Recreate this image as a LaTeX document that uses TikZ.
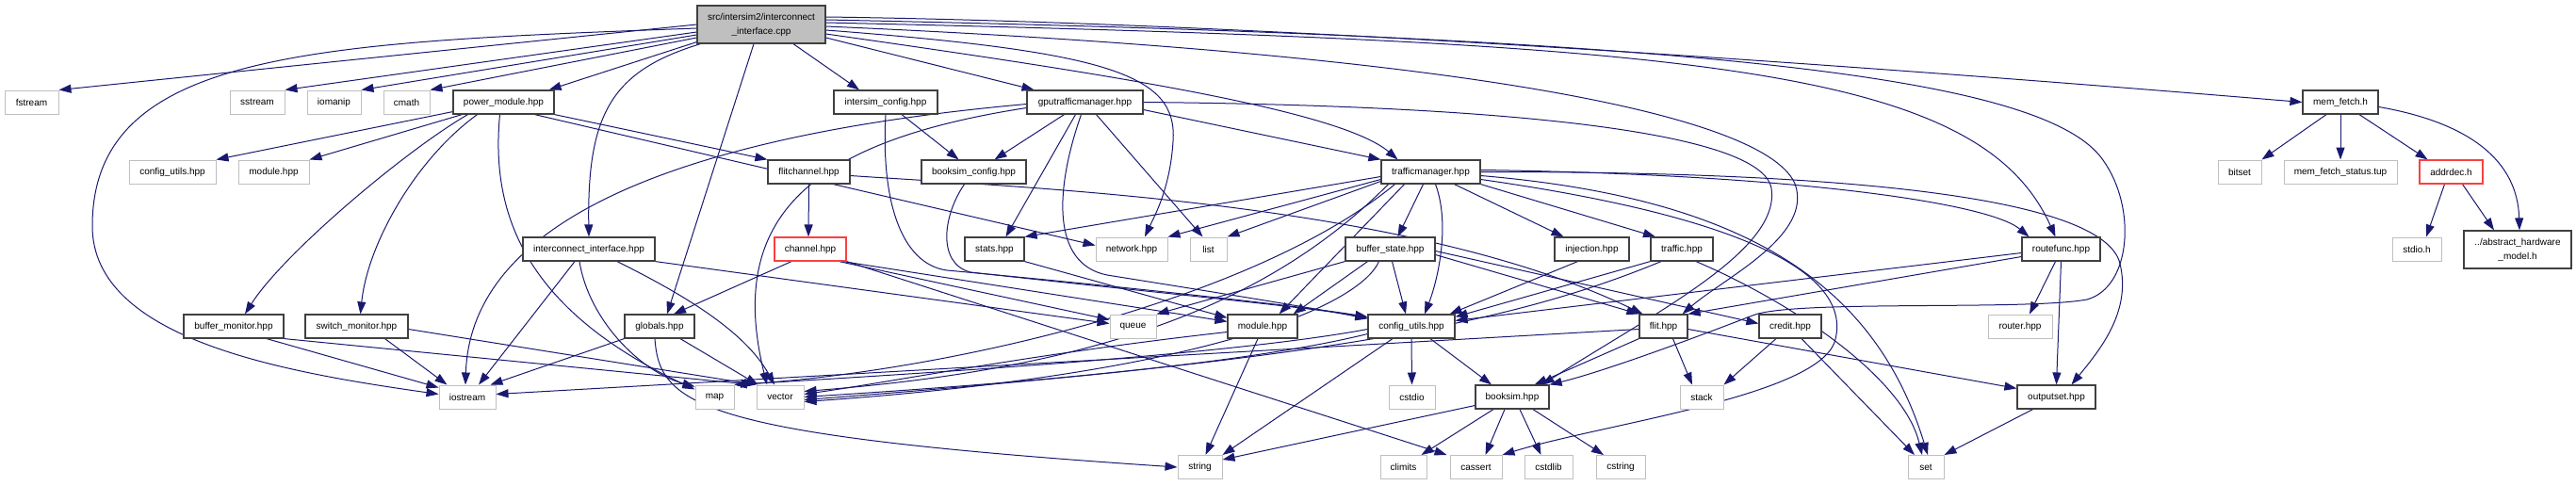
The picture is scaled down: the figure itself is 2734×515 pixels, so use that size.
\documentclass[tikz,border=0pt]{standalone}
\usepackage{fontspec}
\setmainfont{Liberation Sans}
\usetikzlibrary{arrows.meta,backgrounds}
\definecolor{ecol}{RGB}{25,25,112}
\definecolor{gcol}{RGB}{191,191,191}
\definecolor{bcol}{RGB}{64,64,64}
\definecolor{rcol}{RGB}{250,64,64}
\definecolor{rootfill}{RGB}{191,191,191}
\begin{document}
\begin{tikzpicture}[x=1pt,y=-1pt,
  base/.style={rectangle, minimum height=25pt, inner sep=0pt, fill=white, font=\fontsize{10}{15}\selectfont, text=black},
  gbox/.style={base, draw=gcol, line width=1pt},
  bbox/.style={base, draw=bcol, line width=1.2pt},
  rbox/.style={base, draw=rcol, line width=1.2pt},
  e/.style={draw=ecol, line width=1pt, -{Triangle[length=13pt,width=9pt]}},
]
\path[use as bounding box] (0,0) rectangle (2734,515);

% row 0
\node[bbox, fill=rootfill, minimum width=136pt, minimum height=40pt, align=center] (root) at (808,26) {src/intersim2/interconnect\\\_interface.cpp};
% row 1
\node[gbox, minimum width=57pt] (fstream) at (33.5,108.5) {fstream};
\node[gbox, minimum width=58pt] (sstream) at (273,108.5) {sstream};
\node[gbox, minimum width=57pt] (iomanip) at (354.5,108.5) {iomanip};
\node[gbox, minimum width=49pt] (cmath) at (431.5,108.5) {cmath};
\node[bbox, minimum width=107pt] (pm) at (534.5,108.5) {power\_module.hpp};
\node[bbox, minimum width=110pt] (isc) at (940,108.5) {intersim\_config.hpp};
\node[bbox, minimum width=123pt] (gputm) at (1151.5,108.5) {gputrafficmanager.hpp};
\node[bbox, minimum width=80pt] (mf) at (2484,108.5) {mem\_fetch.h};
% row 2
\node[gbox, minimum width=92pt] (cuG) at (183,182.5) {config\_utils.hpp};
\node[gbox, minimum width=75pt] (modG) at (290.5,182.5) {module.hpp};
\node[bbox, minimum width=87pt] (fc) at (858.5,182.5) {flitchannel.hpp};
\node[bbox, minimum width=111pt] (bc) at (1033.5,182.5) {booksim\_config.hpp};
\node[bbox, minimum width=105pt] (tm) at (1518.5,182.5) {trafficmanager.hpp};
\node[gbox, minimum width=46pt] (bitset) at (2377,182.5) {bitset};
\node[gbox, minimum width=120pt] (mfs) at (2484,182.5) {mem\_fetch\_status.tup};
\node[rbox, minimum width=67pt] (addrdec) at (2601.5,182.5) {addrdec.h};
% row 3
\node[bbox, minimum width=140pt] (iih) at (625,264.5) {interconnect\_interface.hpp};
\node[rbox, minimum width=76pt] (channel) at (860,264.5) {channel.hpp};
\node[bbox, minimum width=63pt] (stats) at (1055.5,264.5) {stats.hpp};
\node[gbox, minimum width=76pt] (network) at (1201,264.5) {network.hpp};
\node[gbox, minimum width=39pt] (list) at (1282.5,264.5) {list};
\node[bbox, minimum width=95pt] (bs) at (1475.5,264.5) {buffer\_state.hpp};
\node[bbox, minimum width=79pt] (inj) at (1689.5,264.5) {injection.hpp};
\node[bbox, minimum width=66pt] (traffic) at (1785,264.5) {traffic.hpp};
\node[bbox, minimum width=83pt] (rf) at (2187.5,264.5) {routefunc.hpp};
\node[gbox, minimum width=52pt] (stdio) at (2565,264.5) {stdio.h};
\node[bbox, minimum width=114pt, minimum height=40pt, align=center] (ahm) at (2672,265) {../abstract\_hardware\\\_model.h};
% row 4
\node[bbox, minimum width=106pt] (bm) at (248,346.5) {buffer\_monitor.hpp};
\node[bbox, minimum width=109pt] (sm) at (378.5,346.5) {switch\_monitor.hpp};
\node[bbox, minimum width=74pt] (globals) at (700,346.5) {globals.hpp};
\node[gbox, minimum width=49pt] (queue) at (1202.5,346.5) {queue};
\node[bbox, minimum width=74pt] (module) at (1340,346.5) {module.hpp};
\node[bbox, minimum width=92pt] (cu) at (1498,346.5) {config\_utils.hpp};
\node[bbox, minimum width=51pt] (flit) at (1765.5,346.5) {flit.hpp};
\node[bbox, minimum width=66pt] (credit) at (1900,346.5) {credit.hpp};
\node[gbox, minimum width=68pt] (router) at (2144,346.5) {router.hpp};
% row 5
\node[gbox, minimum width=60pt] (iostream) at (496,421.5) {iostream};
\node[gbox, minimum width=41pt] (map) at (758.5,421.5) {map};
\node[gbox, minimum width=50pt] (vector) at (828,421.5) {vector};
\node[gbox, minimum width=49pt] (cstdio) at (1498.5,421.5) {cstdio};
\node[bbox, minimum width=78pt] (booksim) at (1605,421.5) {booksim.hpp};
\node[gbox, minimum width=46pt] (stack) at (1806,421.5) {stack};
\node[bbox, minimum width=83pt] (outputset) at (2182.5,421.5) {outputset.hpp};
% row 6
\node[gbox, minimum width=47pt] (string) at (1273.5,496) {string};
\node[gbox, minimum width=49pt] (climits) at (1489.5,496) {climits};
\node[gbox, minimum width=55pt] (cassert) at (1566.5,496) {cassert};
\node[gbox, minimum width=51pt] (cstdlib) at (1643.5,496) {cstdlib};
\node[gbox, minimum width=52pt] (cstring) at (1720,496) {cstring};
\node[gbox, minimum width=38pt] (set) at (2044,496) {set};

\begin{scope}[on background layer]
% root
\draw[e] (root.west) -- (fstream.north east);
\draw[e] ([yshift=-4pt]root.west) .. controls (330,45) and (98,55) .. (98,240) .. controls (98,360) and (300,395) .. ([yshift=3pt]iostream.west);
\draw[e] ([yshift=-8pt]root.west) -- (sstream.north east);
\draw[e] ([yshift=-11pt]root.west) -- (iomanip.north east);
\draw[e] ([yshift=-14pt]root.west) -- (cmath.north east);
\draw[e] ([yshift=2pt]root.south west) -- ([xshift=-6pt]pm.north east);
\draw[e] ([xshift=4pt]root.south west) .. controls (650,75) and (623,120) .. (iih.north);
\draw[e] ([xshift=-8pt]root.south) -- ([xshift=8pt]globals.north);
\draw[e] ([xshift=34pt]root.south) -- ([xshift=-28pt]isc.north);
\draw[e] ([yshift=-14pt]root.east) -- ([xshift=-54pt]gputm.north);
\draw[e] ([yshift=-10pt]root.east) .. controls (1150,75) and (1420,115) .. ([xshift=-35pt]tm.north);
\draw[e] ([yshift=-6pt]root.east) .. controls (1180,55) and (1250,80) .. (1245,150) .. controls (1242,200) and (1225,230) .. ([xshift=14pt]network.north);
\draw[e] ([yshift=-2pt]root.east) .. controls (1500,55) and (1870,115) .. (1905,195) .. controls (1925,250) and (1830,295) .. ([xshift=-6pt]flit.north east);
\draw[e] ([yshift=2pt]root.east) .. controls (1800,45) and (2100,70) .. ([xshift=-6pt]rf.north);
\draw[e] ([yshift=5pt]root.east) .. controls (1800,40) and (2170,80) .. (2232,170) .. controls (2268,220) and (2262,305) .. (2215,318) .. controls (2150,330) and (1900,318) .. (1860,335) .. controls (1790,362) and (1700,395) .. (booksim.north east);
\draw[e] ([yshift=8pt]root.east) .. controls (1400,25) and (2100,80) .. (mf.west);
% gputrafficmanager
\draw[e] ([yshift=-2pt]gputm.west) .. controls (760,140) and (500,220) .. ([xshift=-2pt]iostream.north);
\draw[e] ([yshift=-6pt]gputm.west) .. controls (860,150) and (770,230) .. ([xshift=-14pt]vector.north);
\draw[e] ([xshift=-22pt]gputm.south) -- ([xshift=22pt]bc.north);
\draw[e] ([xshift=-10pt]gputm.south) -- ([xshift=12pt]stats.north);
\draw[e] ([xshift=-4pt]gputm.south) .. controls (1120,200) and (1115,280) .. (1175,292) .. controls (1300,312) and (1400,328) .. ([yshift=-5pt]cu.north west);
\draw[e] ([xshift=12pt]gputm.south) -- ([xshift=-6pt]list.north);
\draw[e] ([yshift=-8pt]gputm.east) -- (tm.north west);
\draw[e] (gputm.east) .. controls (1600,112) and (1870,140) .. (1880,200) .. controls (1890,265) and (1760,330) .. ([xshift=-8pt]booksim.north east);
% intersim_config, booksim_config
\draw[e] ([xshift=17pt]isc.south) -- ([xshift=-16pt]bc.north);
\draw[e] (isc.south) .. controls (935,210) and (955,280) .. (1005,287) .. controls (1200,305) and (1380,325) .. ([yshift=-3pt]cu.north west);
\draw[e] ([xshift=-10pt]bc.south) .. controls (1000,230) and (995,280) .. (1030,289) .. controls (1200,308) and (1390,326) .. ([yshift=-4pt]cu.north west);
% power_module
\draw[e] ([yshift=3pt]pm.south west) -- (cuG.north east);
\draw[e] ([xshift=10pt]pm.south west) -- (modG.north east);
\draw[e] ([xshift=-38pt]pm.south) .. controls (430,160) and (300,270) .. ([xshift=12pt]bm.north);
\draw[e] ([xshift=-28pt]pm.south) .. controls (440,170) and (390,260) .. ([xshift=4pt]sm.north);
\draw[e] ([xshift=-4pt]pm.south) .. controls (520,230) and (560,330) .. ([yshift=-5pt]map.north west);
\draw[e] ([xshift=33pt]pm.south) -- ([yshift=4pt]network.west);
\draw[e] (pm.south east) -- (fc.north west);
% flitchannel, channel
\draw[e] (fc.south) -- ([xshift=-2pt]channel.north);
\draw[e] ([yshift=-4pt]fc.east) .. controls (1100,200) and (1500,215) .. ([xshift=4pt]flit.north west);
\draw[e] ([xshift=-20pt]channel.south) -- ([xshift=15pt]globals.north);
\draw[e] ([xshift=-8pt]channel.south east) -- ([yshift=-6pt]queue.north west);
\draw[e] ([xshift=-4pt]channel.south east) -- ([yshift=-8pt]module.north west);
\draw[e] (channel.south east) -- ([xshift=-3pt]cassert.north west);
% interconnect_interface.hpp
\draw[e] ([xshift=-15pt]iih.south) -- ([xshift=12pt]iostream.north);
\draw[e] ([xshift=-10pt]iih.south) .. controls (625,340) and (680,395) .. ([yshift=-2pt]map.north west);
\draw[e] ([xshift=30pt]iih.south) .. controls (720,310) and (790,350) .. ([xshift=-6pt]vector.north);
\draw[e] (iih.south east) -- ([yshift=3pt]queue.west);
% globals, monitors
\draw[e] (globals.south west) -- ([xshift=-6pt]iostream.north east);
\draw[e] ([xshift=22pt]globals.south) -- ([xshift=2pt]vector.north west);
\draw[e] ([xshift=-5pt]globals.south) .. controls (700,430) and (740,462) .. (string.west);
\draw[e] ([xshift=35pt]bm.south) -- ([yshift=-3pt]iostream.north west);
\draw[e] (bm.south east) -- ([xshift=-3pt]vector.north west);
\draw[e] ([xshift=30pt]sm.south) -- ([xshift=9pt]iostream.north west);
\draw[e] ([yshift=-3pt]sm.east) -- (vector.north west);
% module, config_utils
\draw[e] ([xshift=-5pt]module.south) -- ([xshift=6pt]string.north);
\draw[e] ([yshift=-6pt]module.west) .. controls (1100,375) and (950,405) .. ([yshift=3pt]vector.east);
\draw[e] (cu.south) -- (cstdio.north);
\draw[e] ([xshift=20pt]cu.south) -- ([xshift=-22pt]booksim.north);
\draw[e] ([xshift=-20pt]cu.south) -- (string.north east);
\draw[e] ([yshift=-3pt]cu.west) .. controls (1300,378) and (950,398) .. (map.north east);
\draw[e] ([yshift=-8pt]cu.west) .. controls (1300,392) and (1000,412) .. (vector.east);
% booksim
\draw[e] ([xshift=-20pt]booksim.south) -- ([xshift=-6pt]climits.north east);
\draw[e] ([xshift=-8pt]booksim.south) -- ([xshift=10pt]cassert.north);
\draw[e] ([xshift=8pt]booksim.south) -- ([xshift=-8pt]cstdlib.north);
\draw[e] ([xshift=22pt]booksim.south) -- ([xshift=-18pt]cstring.north);
\draw[e] ([yshift=-9pt]booksim.west) -- ([yshift=8pt]string.east);
% flit, credit, outputset
\draw[e] ([xshift=10pt]flit.south) -- ([xshift=-10pt]stack.north);
\draw[e] (flit.south west) -- ([xshift=-16pt]booksim.north east);
\draw[e] ([yshift=-3pt]flit.east) -- ([yshift=-4pt]outputset.north west);
\draw[e] ([yshift=-3pt]flit.west) -- ([yshift=3pt]iostream.east);
\draw[e] ([xshift=-15pt]credit.south) -- (stack.north east);
\draw[e] ([xshift=12pt]credit.south) -- ([xshift=-12pt]set.north);
\draw[e] ([xshift=-25pt]outputset.south) -- (set.north east);
% routefunc
\draw[e] ([xshift=-6pt]rf.south) -- ([xshift=10pt]router.north);
\draw[e] (rf.south) -- (outputset.north);
\draw[e] ([yshift=-8pt]rf.west) -- (flit.north east);
\draw[e] ([yshift=-4pt]rf.west) -- ([yshift=-7pt]cu.north east);
% traffic, injection
\draw[e] (traffic.south west) -- ([yshift=-3pt]cu.north east);
\draw[e] ([xshift=-22pt]traffic.south) .. controls (1600,345) and (1400,382) .. ([yshift=-3pt]vector.east);
\draw[e] ([xshift=15pt]traffic.south) .. controls (1900,320) and (2020,400) .. ([xshift=-4pt]set.north);
\draw[e] ([xshift=-15pt]inj.south) -- ([xshift=-6pt]cu.north east);
% buffer_state
\draw[e] ([xshift=2pt]bs.south) -- ([xshift=-6pt]cu.north);
\draw[e] (bs.south west) -- (queue.north east);
\draw[e] ([xshift=-24pt]bs.south) -- ([xshift=-5pt]module.north east);
\draw[e] ([xshift=-12pt]bs.south) .. controls (1445,320) and (1300,395) .. ([yshift=-5pt]vector.east);
\draw[e] ([yshift=-6pt]bs.east) -- (flit.north west);
\draw[e] ([yshift=-2pt]bs.east) -- ([yshift=3pt]credit.west);
% stats
\draw[e] (stats.south east) -- ([yshift=-4pt]module.north west);
% trafficmanager
\draw[e] ([yshift=-5pt]tm.west) -- (stats.north east);
\draw[e] ([yshift=-8pt]tm.west) -- (network.north east);
\draw[e] ([yshift=-10pt]tm.west) -- (list.north east);
\draw[e] ([xshift=-28pt]tm.south) -- ([xshift=-20pt]module.north east);
\draw[e] ([xshift=-45pt]tm.south) .. controls (1340,330) and (1150,392) .. ([yshift=6pt]vector.east);
\draw[e] ([xshift=-38pt]tm.south) .. controls (1330,320) and (1000,395) .. (map.north east);
\draw[e] ([xshift=5pt]tm.south) .. controls (1540,240) and (1525,300) .. ([xshift=14pt]cu.north);
\draw[e] ([xshift=-8pt]tm.south) -- ([xshift=8pt]bs.north);
\draw[e] ([xshift=25pt]tm.south) -- ([xshift=-30pt]inj.north);
\draw[e] (tm.south east) -- ([xshift=-28pt]traffic.north);
\draw[e] ([yshift=2pt]tm.east) .. controls (1900,185) and (2110,215) .. ([xshift=-34pt]rf.north);
\draw[e] (tm.east) .. controls (2000,182) and (2235,215) .. (2250,280) .. controls (2262,330) and (2230,370) .. ([xshift=16pt]outputset.north);
\draw[e] ([yshift=-4pt]tm.east) .. controls (1850,210) and (1990,300) .. ([xshift=2pt]set.north);
\draw[e] ([yshift=-8pt]tm.east) .. controls (1850,230) and (1965,290) .. (1948,360) .. controls (1935,420) and (1700,450) .. (cassert.north east);
% mem_fetch, addrdec
\draw[e] ([xshift=-15pt]mf.south) -- (bitset.north east);
\draw[e] (mf.south) -- (mfs.north);
\draw[e] ([xshift=20pt]mf.south) -- ([xshift=-25pt]addrdec.north);
\draw[e] ([yshift=-5pt]mf.east) .. controls (2620,130) and (2672,170) .. ([xshift=2pt]ahm.north);
\draw[e] ([xshift=-7pt]addrdec.south) -- ([xshift=10pt]stdio.north);
\draw[e] ([xshift=12pt]addrdec.south) -- ([xshift=-25pt]ahm.north);
\end{scope}
\end{tikzpicture}
\end{document}
